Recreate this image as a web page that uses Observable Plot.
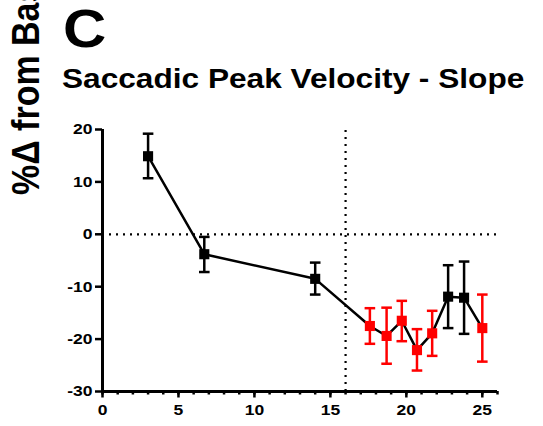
<!DOCTYPE html>
<html>
<head>
<meta charset="utf-8">
<script src="https://cdn.jsdelivr.net/npm/d3@7"></script>
<script src="https://cdn.jsdelivr.net/npm/@observablehq/plot@0.6"></script>
<style>
  html, body { margin: 0; padding: 0; background: #fff; }
  #chart { width: 543px; height: 426px; overflow: hidden; }
</style>
</head>
<body>
<div id="chart"></div>
<script>
const times   = [3, 6.7, 14, 17.6, 18.7, 19.7, 20.7, 21.7, 22.75, 23.8, 25];
const means   = [14.9, -3.8, -8.5, -17.5, -19.4, -16.5, -22.1, -18.9, -11.9, -12.1, -17.9];
const upper   = [19.2, -0.5, -5.4, -14.1, -14.0, -12.7, -18.1, -14.6, -5.9, -5.2, -11.5];
const lower   = [10.7, -7.2, -11.5, -20.9, -24.7, -20.4, -26.0, -23.2, -17.9, -19.0, -24.3];
const colors  = ["black", "black", "black", "red", "red", "red", "red", "red", "black", "black", "red"];
const yTicks  = [20, 10, 0, -10, -20, -30];
const xMajor  = [0, 5, 10, 15, 20, 25];
const xMinor  = d3.range(0, 27, 1);
const refX    = 16;
const refY    = 0;

const data = times.map((t, i) => ({t, m: means[i], hi: upper[i], lo: lower[i], c: colors[i]}));

const cap = {
  draw(ctx, size) {
    const w = Math.sqrt(size / Math.PI);
    ctx.moveTo(-w, 0);
    ctx.lineTo(w, 0);
  }
};

const fmt = d => d < 0 ? "-" + Math.abs(d) : String(d);

const plot = Plot.plot({
  width: 543,
  height: 426,
  marginLeft: 102,
  marginRight: 46,
  marginTop: 129,
  marginBottom: 35,
  style: {fontFamily: "'Liberation Sans', Arial, sans-serif", color: "black", background: "white"},
  x: {domain: [0, 26]},
  y: {domain: [-30, 20]},
  color: {type: "identity"},
  marks: [
    Plot.ruleY([refY], {x1: 0, x2: 26, stroke: "black", strokeWidth: 2.2, strokeDasharray: "2,5"}),
    Plot.ruleX([refX], {y1: -30, y2: 20, stroke: "black", strokeWidth: 2.2, strokeDasharray: "2,5"}),
    Plot.ruleX(data, {x: "t", y1: "lo", y2: "hi", stroke: "c", strokeWidth: 2.5}),
    Plot.dot(data, {x: "t", y: "hi", symbol: cap, r: 5.3, stroke: "c", strokeWidth: 2.5, fill: "none"}),
    Plot.dot(data, {x: "t", y: "lo", symbol: cap, r: 5.3, stroke: "c", strokeWidth: 2.5, fill: "none"}),
    Plot.line(data, {x: "t", y: "m", stroke: "black", strokeWidth: 2.5, curve: "linear"}),
    Plot.dot(data, {x: "t", y: "m", symbol: "square", r: 5.7, fill: "c", stroke: "none"}),
    Plot.axisX({ticks: xMinor, tickSize: 3.5, text: null, label: null, strokeWidth: 2.5}),
    Plot.axisX({ticks: xMajor, tickSize: 6.5, tickPadding: 6, fontSize: 15.5, fontWeight: "bold", strokeWidth: 2.5, tickFormat: fmt, label: null}),
    Plot.axisY({ticks: yTicks, tickSize: 7, tickPadding: 3, fontSize: 15.5, fontWeight: "bold", strokeWidth: 2.5, tickFormat: fmt, label: null}),
    Plot.ruleX([0], {y1: -30, y2: 20, stroke: "black", strokeWidth: 3}),
    Plot.ruleY([-30], {x1: 0, x2: 26, stroke: "black", strokeWidth: 3})
  ]
});

document.getElementById("chart").appendChild(plot);

const svg = d3.select(plot);
const sx = 1.13;
svg.selectAll("g[aria-label='x-axis tick label'] text, g[aria-label='y-axis tick label'] text")
  .attr("transform", function() {
    const t = this.getAttribute("transform") || "";
    return t + ` scale(${sx},1)`;
  });

const ff = "'Liberation Sans', Arial, sans-serif";
svg.append("text")
  .attr("transform", `translate(63,47) scale(${sx},1)`).attr("text-anchor", "start")
  .attr("font-family", ff).attr("font-weight", "bold").attr("font-size", 53)
  .attr("fill", "black").text("C");
svg.append("text")
  .attr("transform", `translate(62,88) scale(${sx},1)`).attr("text-anchor", "start")
  .attr("font-family", ff).attr("font-weight", "bold").attr("font-size", 28)
  .attr("fill", "black").text("Saccadic Peak Velocity - Slope");
svg.append("text")
  .attr("transform", `translate(38.5,195) scale(${sx},1) rotate(-90)`).attr("text-anchor", "start")
  .attr("font-family", ff).attr("font-weight", "bold").attr("font-size", 34)
  .attr("fill", "black").text("%Δ from Baseline");
</script>
</body>
</html>
